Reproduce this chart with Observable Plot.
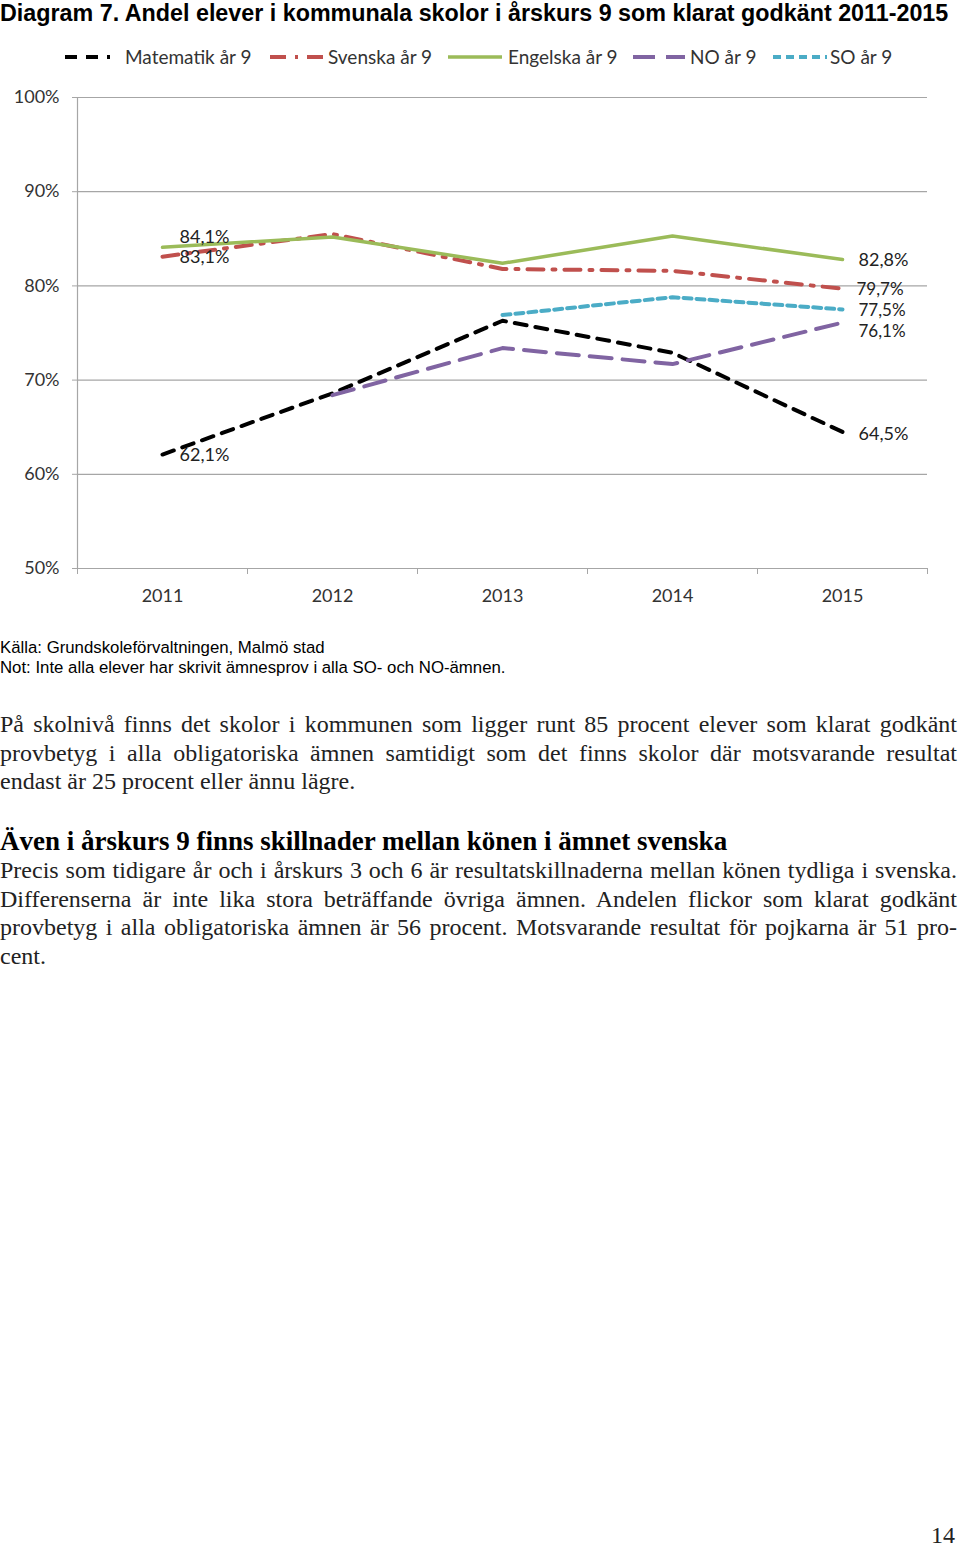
<!DOCTYPE html>
<html>
<head>
<meta charset="utf-8">
<script src="https://cdn.jsdelivr.net/npm/d3@7"></script>
<script src="https://cdn.jsdelivr.net/npm/@observablehq/plot@0.6"></script>
<style>
  body { margin: 0; background: #fff; width: 960px; height: 1547px; position: relative; overflow: hidden; }
  #title { position: absolute; left: 0; top: 0; font: bold 23.3px "Liberation Sans", Arial, sans-serif; white-space: nowrap; color: #000; line-height: 26px; }
  #legend { position: absolute; top: 45px; left: 0; width: 960px; height: 24px; font-family: Lato, sans-serif; font-size: 19px; color: #333; }
  .sw { position: absolute; top: 0; height: 24px; }
  .lt { position: absolute; top: 0; height: 24px; line-height: 24px; white-space: nowrap; }
  #chart { position: absolute; top: 75px; left: 0; }
  .cap { position: absolute; left: 0; font: 16.8px "Liberation Sans", Arial, sans-serif; color: #000; white-space: nowrap; line-height: 20px; }
  .para { position: absolute; left: 0; width: 957px; font: 24px "Liberation Serif", serif; color: #222; }
  .ln { text-align: justify; text-align-last: justify; height: 28.6px; line-height: 28.6px; }
  .ln.last { text-align: left; text-align-last: left; }
  .head { position: absolute; left: 0; font: bold 27px "Liberation Serif", serif; color: #000; white-space: nowrap; line-height: 30px; }
  #page { position: absolute; right: 5px; top: 1521px; font: 24px "Liberation Serif", serif; color: #222; line-height: 28px; }
</style>
</head>
<body>
<div id="title">Diagram 7. Andel elever i kommunala skolor i årskurs 9 som klarat godkänt 2011-2015</div>
<div id="legend"></div>
<div id="chart"></div>
<div class="cap" style="top:638px">Källa: Grundskoleförvaltningen, Malmö stad</div>
<div class="cap" style="top:658px">Not: Inte alla elever har skrivit ämnesprov i alla SO- och NO-ämnen.</div>
<div class="para" style="top:710px">
  <div class="ln">På skolnivå finns det skolor i kommunen som ligger runt 85 procent elever som klarat godkänt</div>
  <div class="ln">provbetyg i alla obligatoriska ämnen samtidigt som det finns skolor där motsvarande resultat</div>
  <div class="ln last">endast är 25 procent eller ännu lägre.</div>
</div>
<div class="head" style="top:826px">Även i årskurs 9 finns skillnader mellan könen i ämnet svenska</div>
<div class="para" style="top:856px">
  <div class="ln">Precis som tidigare år och i årskurs 3 och 6 är resultatskillnaderna mellan könen tydliga i svenska.</div>
  <div class="ln">Differenserna är inte lika stora beträffande övriga ämnen. Andelen flickor som klarat godkänt</div>
  <div class="ln">provbetyg i alla obligatoriska ämnen är 56 procent. Motsvarande resultat för pojkarna är 51 pro-</div>
  <div class="ln last">cent.</div>
</div>
<div id="page">14</div>
<script>
// ---- data ----
const years = [2011, 2012, 2013, 2014, 2015];
const seriesNames = ["Matematik år 9", "Svenska år 9", "Engelska år 9", "NO år 9", "SO år 9"];
const matematik = [62.1, 68.6, 76.3, 72.9, 64.5];
const svenska   = [83.1, 85.5, 81.8, 81.6, 79.7];
const engelska  = [84.1, 85.2, 82.4, 85.3, 82.8];
const no        = [null, 68.4, 73.4, 71.7, 76.1];
const so        = [null, null, 76.9, 78.8, 77.5];
const yTicks = [50, 60, 70, 80, 90, 100];

const seriesValues = [matematik, svenska, engelska, no, so];
const colors = ["#000000", "#c0504d", "#9bbb59", "#8064a2", "#4bacc6"];
const dashes = ["12 9", "16 9 3 9", null, "22 11", "8 5"];
const widths = [4, 4, 3.5, 4, 4];

const rows = [];
seriesNames.forEach((s, i) => {
  years.forEach((y, j) => {
    const v = seriesValues[i][j];
    if (v != null) rows.push({series: s, year: y, value: v});
  });
});
const fmt = v => v.toFixed(1).replace(".", ",") + "%";
const boundaries = [2010.5, 2011.5, 2012.5, 2013.5, 2014.5, 2015.5];

// label placement (offsets only)
const labelSpecs = [
  {series: "Engelska år 9", year: 2011, dx: 17, dy: -10, fs: 18},
  {series: "Svenska år 9", year: 2011, dx: 17, dy: 1, fs: 18},
  {series: "Matematik år 9", year: 2011, dx: 17, dy: 1, fs: 18},
  {series: "Engelska år 9", year: 2015, dx: 16, dy: 1, fs: 18},
  {series: "Svenska år 9", year: 2015, dx: 14, dy: 1, fs: 17},
  {series: "SO år 9", year: 2015, dx: 16, dy: 1, fs: 17},
  {series: "NO år 9", year: 2015, dx: 16, dy: 9, fs: 17},
  {series: "Matematik år 9", year: 2015, dx: 16, dy: 2, fs: 18}
];

const marks = [
  Plot.gridY(yTicks, {stroke: "#a6a6a6", strokeOpacity: 1, strokeWidth: 1.2}),
  Plot.ruleX([2010.5], {stroke: "#a6a6a6", strokeWidth: 1.2}),
  Plot.axisY({ticks: yTicks, tickFormat: d => d + "%", tickSize: 5, tickPadding: 13, stroke: "#a6a6a6", fill: "#333", fontSize: 18, label: null}),
  Plot.axisX({ticks: boundaries, tickFormat: () => "", tickSize: 6, stroke: "#a6a6a6", label: null}),
  Plot.axisX({ticks: years, tickFormat: d => String(d), tickSize: 0, tickPadding: 21, fill: "#333", fontSize: 18, label: null})
];
seriesNames.forEach((s, i) => {
  marks.push(Plot.line(rows.filter(r => r.series === s), {
    x: "year", y: "value", stroke: colors[i], strokeWidth: widths[i],
    strokeDasharray: dashes[i] || undefined, strokeLinejoin: "round"
  }));
});
labelSpecs.forEach(l => {
  const r = rows.filter(d => d.series === l.series && d.year === l.year);
  marks.push(Plot.text(r, {x: "year", y: "value", text: d => fmt(d.value), dx: l.dx, dy: l.dy, textAnchor: "start", fill: "#222", fontSize: l.fs}));
});

const chart = Plot.plot({
  width: 960, height: 540,
  marginTop: 22, marginBottom: 47, marginLeft: 77, marginRight: 33,
  x: {type: "linear", domain: [2010.5, 2015.5]},
  y: {domain: [50, 100]},
  style: {fontFamily: "Lato, sans-serif", fontSize: "18px", color: "#333", background: "white", overflow: "visible"},
  marks
});
document.getElementById("chart").appendChild(chart);

// legend
const legendPos = [
  {sw: [65, 110], tx: 125},
  {sw: [270, 323], tx: 328},
  {sw: [448, 502], tx: 508},
  {sw: [633, 685], tx: 690},
  {sw: [773, 827], tx: 830}
];
const legend = document.getElementById("legend");
seriesNames.forEach((s, i) => {
  const p = legendPos[i];
  const w = p.sw[1] - p.sw[0];
  const svg = d3.create("svg").attr("class", "sw").attr("width", w).attr("height", 24).style("left", p.sw[0] + "px");
  svg.append("line").attr("x1", 0).attr("x2", w).attr("y1", 12).attr("y2", 12)
    .attr("stroke", colors[i]).attr("stroke-width", widths[i])
    .attr("stroke-dasharray", dashes[i]);
  legend.appendChild(svg.node());
  const t = document.createElement("div");
  t.className = "lt"; t.style.left = p.tx + "px"; t.textContent = s;
  legend.appendChild(t);
});
</script>
</body>
</html>
